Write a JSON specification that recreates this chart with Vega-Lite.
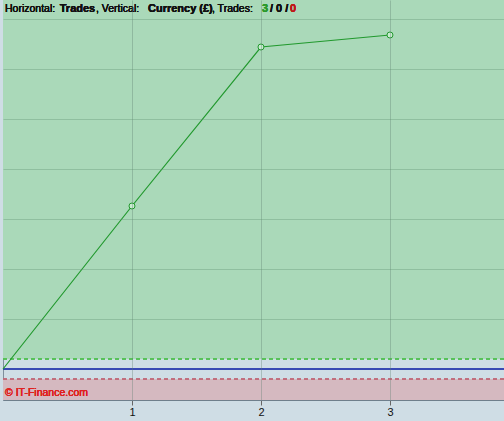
{
  "$schema": "https://vega.github.io/schema/vega-lite/v6.json",
  "width": 501,
  "height": 400,
  "autosize": "none",
  "padding": {"left": 3, "top": 0, "right": 0, "bottom": 21},
  "background": "#cfdde5",
  "config": {
    "view": {"stroke": "#7f8f9c", "strokeWidth": 1, "fill": "#cfdde5"},
    "axis": {"labelFont": "Liberation Sans", "labelFontSize": 11, "labelColor": "#111111"}
  },
  "data": {
    "values": [
      {"trade": 0, "pnl": 0},
      {"trade": 1, "pnl": 326},
      {"trade": 2, "pnl": 644},
      {"trade": 3, "pnl": 668}
    ]
  },
  "layer": [
    {
      "mark": {"type": "rect", "color": "#aad9b9"},
      "encoding": {
        "x": {"datum": 0, "type": "quantitative", "scale": {"domain": [0, 3.884], "nice": false, "zero": false},
          "axis": {"values": [1, 2, 3], "title": null, "format": "d", "grid": true, "gridColor": "#5f7f70", "gridOpacity": 0.35, "tickColor": "#666666", "tickSize": 5, "domain": true, "domainColor": "#6f7f8c", "labelPadding": 1, "zindex": 1}},
        "x2": {"datum": 3.884},
        "y": {"datum": 20, "type": "quantitative", "scale": {"domain": [-62, 738], "nice": false, "zero": false},
          "axis": {"values": [100, 200, 300, 400, 500, 600, 700], "title": null, "labels": false, "ticks": false, "domain": false, "grid": true, "gridColor": "#5f8f70", "gridOpacity": 0.35, "zindex": 1}},
        "y2": {"datum": 738}
      }
    },
    {
      "mark": {"type": "rect", "color": "#d5b9c0"},
      "encoding": {
        "x": {"datum": 0, "type": "quantitative"},
        "x2": {"datum": 3.884},
        "y": {"datum": -62, "type": "quantitative"},
        "y2": {"datum": -20}
      }
    },
    {
      "mark": {"type": "rule", "color": "#52c052", "strokeDash": [4, 3], "strokeWidth": 1},
      "encoding": {"y": {"datum": 20, "type": "quantitative"}}
    },
    {
      "mark": {"type": "rule", "color": "#c06878", "strokeDash": [4, 3], "strokeWidth": 1},
      "encoding": {"y": {"datum": -20, "type": "quantitative"}}
    },
    {
      "mark": {"type": "rule", "color": "#3040b0", "strokeWidth": 1},
      "encoding": {"y": {"datum": 0, "type": "quantitative"}}
    },
    {
      "mark": {"type": "line", "color": "#22992e", "strokeWidth": 1.2},
      "encoding": {
        "x": {"field": "trade", "type": "quantitative"},
        "y": {"field": "pnl", "type": "quantitative"}
      }
    },
    {
      "transform": [{"filter": "datum.trade > 0"}],
      "mark": {"type": "point", "shape": "circle", "filled": true, "fill": "#c8ecd0", "stroke": "#22992e", "strokeWidth": 1, "size": 36, "opacity": 1},
      "encoding": {
        "x": {"field": "trade", "type": "quantitative"},
        "y": {"field": "pnl", "type": "quantitative"}
      }
    },
    {
      "mark": {"type": "text", "text": "Horizontal:", "align": "left", "baseline": "middle", "font": "Liberation Sans", "fontSize": 10.5, "color": "#111111"},
      "encoding": {"x": {"datum": 0.0155, "type": "quantitative"}, "y": {"datum": 720, "type": "quantitative"}}
    },
    {
      "mark": {"type": "text", "text": "Trades", "align": "left", "baseline": "middle", "font": "Liberation Sans", "fontSize": 11, "fontWeight": "bold", "color": "#111111"},
      "encoding": {"x": {"datum": 0.44, "type": "quantitative"}, "y": {"datum": 720, "type": "quantitative"}}
    },
    {
      "mark": {"type": "text", "text": ", Vertical:", "align": "left", "baseline": "middle", "font": "Liberation Sans", "fontSize": 10.5, "color": "#111111"},
      "encoding": {"x": {"datum": 0.721, "type": "quantitative"}, "y": {"datum": 720, "type": "quantitative"}}
    },
    {
      "mark": {"type": "text", "text": "Currency (£)", "align": "left", "baseline": "middle", "font": "Liberation Sans", "fontSize": 11, "fontWeight": "bold", "color": "#111111"},
      "encoding": {"x": {"datum": 1.124, "type": "quantitative"}, "y": {"datum": 720, "type": "quantitative"}}
    },
    {
      "mark": {"type": "text", "text": ", Trades:", "align": "left", "baseline": "middle", "font": "Liberation Sans", "fontSize": 10.5, "color": "#111111"},
      "encoding": {"x": {"datum": 1.62, "type": "quantitative"}, "y": {"datum": 720, "type": "quantitative"}}
    },
    {
      "mark": {"type": "text", "text": "3", "align": "left", "baseline": "middle", "font": "Liberation Sans", "fontSize": 11, "fontWeight": "bold", "color": "#2a9a2a"},
      "encoding": {"x": {"datum": 2.008, "type": "quantitative"}, "y": {"datum": 720, "type": "quantitative"}}
    },
    {
      "mark": {"type": "text", "text": "/ 0 /", "align": "left", "baseline": "middle", "font": "Liberation Sans", "fontSize": 11, "fontWeight": "bold", "color": "#111111"},
      "encoding": {"x": {"datum": 2.07, "type": "quantitative"}, "y": {"datum": 720, "type": "quantitative"}}
    },
    {
      "mark": {"type": "text", "text": "0", "align": "left", "baseline": "middle", "font": "Liberation Sans", "fontSize": 11, "fontWeight": "bold", "color": "#c01818"},
      "encoding": {"x": {"datum": 2.225, "type": "quantitative"}, "y": {"datum": 720, "type": "quantitative"}}
    },
    {
      "mark": {"type": "text", "text": "© IT-Finance.com", "align": "left", "baseline": "middle", "font": "Liberation Sans", "fontSize": 10.5, "color": "#e02020"},
      "encoding": {"x": {"datum": 0.0155, "type": "quantitative"}, "y": {"datum": -48, "type": "quantitative"}}
    }
  ]
}
